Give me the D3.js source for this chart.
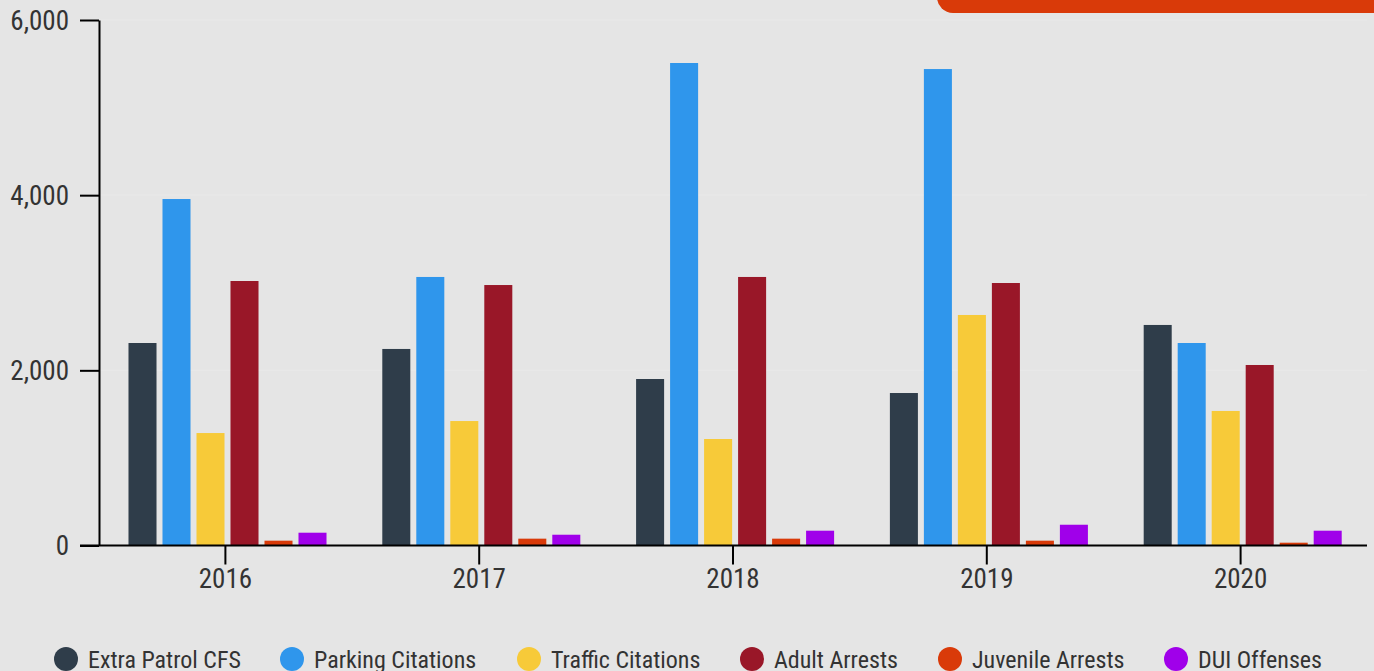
<!DOCTYPE html>
<html>
<head>
<meta charset="utf-8">
<script src="https://cdn.jsdelivr.net/npm/d3@7"></script>
<style>
  html, body { margin: 0; padding: 0; background: #e5e5e5; overflow: hidden; }
  svg { display: block; }
  text { font-family: "Roboto Condensed", "Liberation Sans Narrow", "DejaVu Sans Condensed", Roboto, sans-serif; }
</style>
</head>
<body>
<svg id="chart" width="1374" height="671"></svg>
<script>
const years = ["2016", "2017", "2018", "2019", "2020"];
const seriesNames = ["Extra Patrol CFS", "Parking Citations", "Traffic Citations", "Adult Arrests", "Juvenile Arrests", "DUI Offenses"];
const seriesColors = ["#2f3d4a", "#2f96ec", "#f7ca39", "#991728", "#d93a09", "#a000ea"];
const extraPatrol = [2312, 2244, 1901, 1741, 2518];
const parking = [3956, 3066, 5509, 5440, 2312];
const traffic = [1284, 1421, 1216, 2632, 1536];
const adult = [3020, 2974, 3066, 2997, 2061];
const juvenile = [55, 78, 78, 55, 32];
const dui = [146, 123, 169, 237, 169];
const yTicks = [0, 2000, 4000, 6000];

const seriesValues = [extraPatrol, parking, traffic, adult, juvenile, dui];

const svg = d3.select("#chart");

// top-right decorative banner
svg.append("rect")
  .attr("x", 937).attr("y", -30).attr("width", 480).attr("height", 43)
  .attr("rx", 16).attr("ry", 16)
  .attr("fill", "#d93a09");

const x0 = d3.scaleBand().domain(years).range([98.5, 1367.5]).padding(0);
const x1 = d3.scaleBand().domain(seriesNames).range([27, 231]).paddingInner(0.176).paddingOuter(0.088);
const y = d3.scaleLinear().domain([0, 6000]).range([545.5, 20]);

// faint gridlines
svg.append("g").selectAll("line").data(yTicks.filter(d => d > 0)).join("line")
  .attr("x1", 99).attr("x2", 1367)
  .attr("y1", d => y(d)).attr("y2", d => y(d))
  .attr("stroke", "#e9e9e9").attr("stroke-width", 1);

// bars
const groups = svg.append("g").selectAll("g").data(years).join("g")
  .attr("transform", d => `translate(${x0(d)},0)`);
groups.selectAll("rect")
  .data((yr, i) => seriesNames.map((s, j) => ({ s, j, v: seriesValues[j][i] })))
  .join("rect")
  .attr("x", d => x1(d.s))
  .attr("width", x1.bandwidth())
  .attr("y", d => y(d.v))
  .attr("height", d => y(0) - y(d.v))
  .attr("fill", d => seriesColors[d.j]);

// y axis
const yAxis = svg.append("g")
  .attr("transform", "translate(99,0)")
  .call(d3.axisLeft(y).tickValues(yTicks).tickFormat(d3.format(",")).tickSize(19).tickSizeOuter(0));
yAxis.select(".domain").attr("stroke", "#000").attr("stroke-width", 2);
yAxis.selectAll(".tick line").attr("stroke", "#000").attr("stroke-width", 2);
yAxis.selectAll(".tick text").attr("fill", "#333").attr("font-size", 27).attr("x", -30).attr("dy", "0.34em");

// x axis
const xAxis = svg.append("g")
  .attr("transform", `translate(0,${y(0)})`)
  .call(d3.axisBottom(x0).tickSize(19).tickSizeOuter(0));
xAxis.select(".domain").attr("d", "M80,0H1367").attr("stroke", "#000").attr("stroke-width", 2);
xAxis.selectAll(".tick line").attr("stroke", "#000").attr("stroke-width", 2);
xAxis.selectAll(".tick text").attr("fill", "#333").attr("font-size", 27).attr("y", 23);

// legend
const legendX = [66, 292, 529, 752, 950, 1176];
const legend = svg.append("g").selectAll("g").data(seriesNames).join("g")
  .attr("transform", (d, i) => `translate(${legendX[i]},659)`);
legend.append("circle").attr("r", 12).attr("fill", (d, i) => seriesColors[i]);
legend.append("text").attr("x", 22).attr("y", 0).attr("dy", "0.36em")
  .attr("font-size", 24).attr("fill", "#333").text(d => d);
</script>
</body>
</html>
